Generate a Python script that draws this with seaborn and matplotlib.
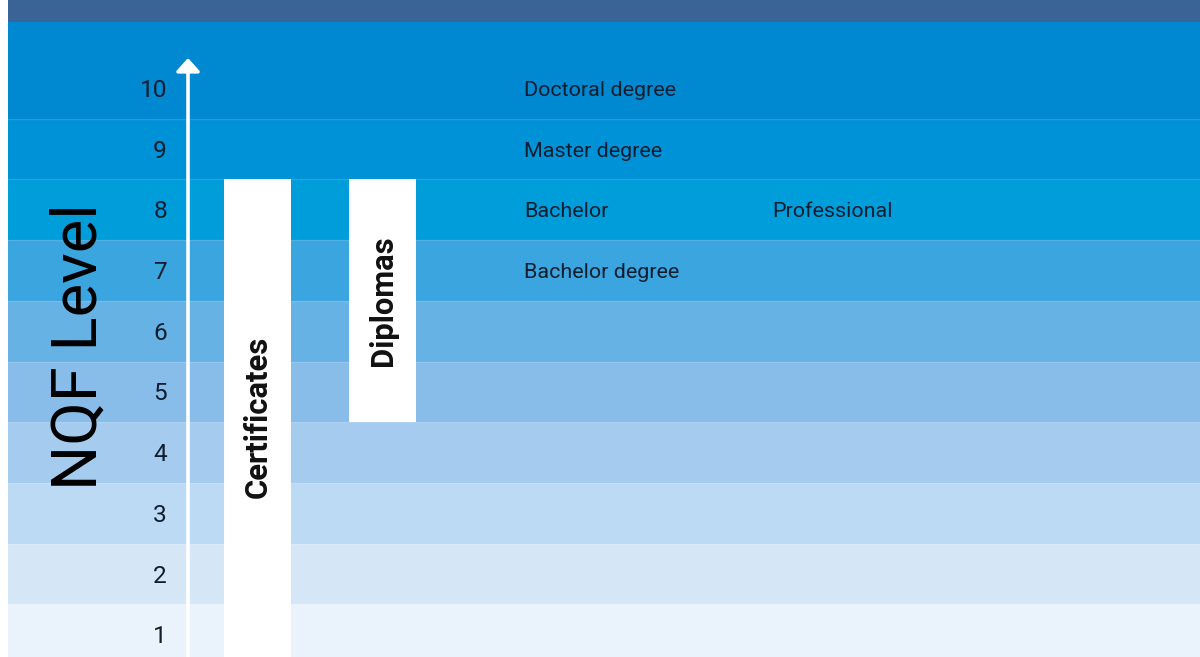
import matplotlib
matplotlib.use("Agg")
import matplotlib.pyplot as plt
from matplotlib import font_manager
import seaborn as sns

# NQF levels and their band colours (level 1 at the bottom)
levels = [1, 2, 3, 4, 5, 6, 7, 8, 9, 10]
band_colors = ['#EAF2FB', '#D5E6F7', '#BDDAF4', '#A5CBEE', '#88BDEA',
               '#67B2E4', '#3AA5DF', '#009DDB', '#0092D7', '#0088D1']

# degree labels: (level, column, text)
degree_levels = [10, 9, 8, 8, 7]
degree_cols = [0, 0, 0, 1, 0]
degree_labels = ['Doctoral degree', 'Master degree', 'Bachelor', 'Professional', 'Bachelor degree']

# qualification columns: lowest and highest level covered
qual_names = ['Certificates', 'Diplomas']
qual_low = [1, 5]
qual_high = [8, 8]

sns.set_theme(style='white')
names = {f.name for f in font_manager.fontManager.ttflist}
narrow = 'Liberation Sans Narrow' in names
font = 'Liberation Sans Narrow' if narrow else 'Roboto'
plt.rcParams['font.family'] = [font, 'DejaVu Sans']
# Roboto is wider than the condensed face of the original, so shrink a bit
k = 1.0 if narrow else 0.86

W, H = 1200, 657
band_px = 60.7
y_bottom = 0.5 + (665 - H) / band_px
y_top = 0.5 + 665 / band_px
header_bottom = y_top - 22 / band_px
dy = 0.035  # text sits a touch below the band centre

fig = plt.figure(figsize=(12, 6.57), dpi=100)
ax = fig.add_axes([0, 0, 1, 1])
ax.set_xlim(0, W)
ax.set_ylim(y_bottom, y_top)
ax.axis('off')

x0 = 8 / W
for lvl, c in zip(levels, band_colors):
    lo = lvl - 0.5 if lvl > 1 else y_bottom - 1
    hi = lvl + 0.5 if lvl < 10 else header_bottom
    ax.axhspan(lo, hi, xmin=x0, xmax=1, color=c, lw=0, zorder=0)
    if lvl > 1:
        ax.axhline(lvl - 0.5, xmin=x0, xmax=1, color='white', alpha=0.12, lw=1, zorder=1)
    ax.text(167, lvl - dy, str(lvl), ha='right', va='center',
            fontsize=18.5 * (1 if narrow else 0.95), color='#0E1E30', zorder=5)

# header strip
ax.axhspan(header_bottom, y_top + 1, xmin=x0, xmax=1, color='#3A6496', lw=0, zorder=0)

# axis arrow
ax.annotate('', xy=(188, 10.5), xytext=(188, y_bottom - 0.2),
            arrowprops=dict(arrowstyle='-|>,head_length=0.4,head_width=0.36',
                            color='white', lw=2.6, mutation_scale=20,
                            shrinkA=0, shrinkB=0), zorder=4)

# qualification columns
qual_x = [257.5, 382.5]
qual_text_y = [4.58, 6.51]
for name, lo, hi, xc, ty in zip(qual_names, qual_low, qual_high, qual_x, qual_text_y):
    bottom = lo - 0.5 if lo > 1 else y_bottom - 1
    ax.bar(xc, (hi + 0.5) - bottom, bottom=bottom, width=67, color='white',
           lw=0, zorder=3)
    ax.text(xc, ty, name, rotation=90, ha='center', va='center',
            fontsize=26.5 * k * 0.98, fontweight='bold', color='#111111', zorder=5)

# degree labels
col_x = [524, 772]
for lvl, col, lab in zip(degree_levels, degree_cols, degree_labels):
    ax.text(col_x[col], lvl - dy, lab, ha='left', va='center', fontsize=18 * k,
            color='#0E1E30', zorder=5)

ax.text(80, 0.5 + (665 - 347) / band_px, 'NQF Level', rotation=90, ha='center',
        va='center', fontsize=50 * (1 if narrow else 0.91), fontweight='normal',
        color='#000000', zorder=5)

fig.savefig('out.png', dpi=100)
